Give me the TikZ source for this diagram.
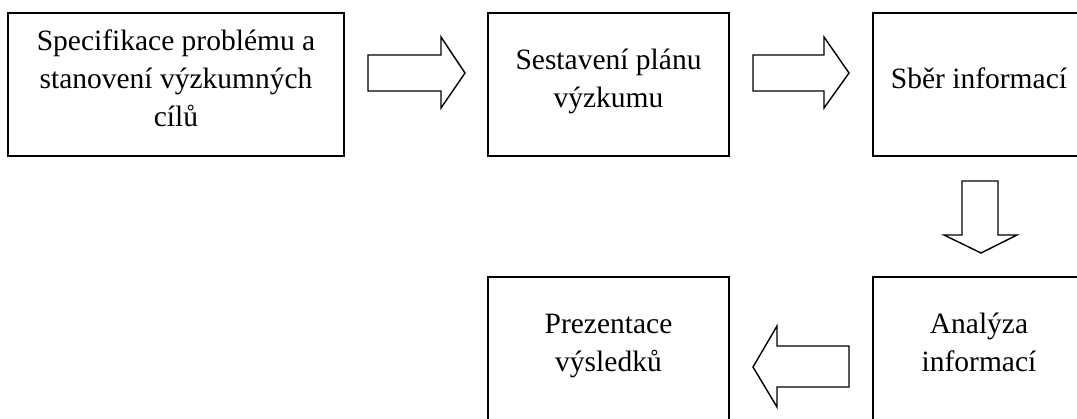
\documentclass[tikz,border=0pt]{standalone}
\usepackage{fontspec}
\setmainfont{Liberation Serif}
\begin{document}
\begin{tikzpicture}[x=1pt,y=-1pt,
  box/.style={draw, line width=1.6pt, inner sep=0pt, minimum height=143pt},
  txt/.style={inner sep=0pt, font=\fontsize{29.5}{38}\selectfont},
  barrow/.style={draw, line width=1.4pt, fill=white, line join=miter}]
\useasboundingbox (0,0) rectangle (1077,419);
\clip (0,0) rectangle (1077,419);
% boxes
\node[box, minimum width=336pt] (b1) at (176,84.5) {};
\node[box, minimum width=241pt] (b2) at (608.5,84.5) {};
\node[box, minimum width=212pt] (b3) at (979,84.5) {};
\node[box, minimum width=212pt, minimum height=144pt] (b5) at (979,349) {};
\node[box, minimum width=241pt, minimum height=144pt] (b4) at (608.5,349) {};
% texts
\node[txt] (t1) at ([yshift=4pt]b1.center) {\begin{tabular}{@{}c@{}}Specifikace problému a\\stanovení výzkumných\\cílů\end{tabular}};
\node[txt] (t2) at ([yshift=4pt]b2.center) {\begin{tabular}{@{}c@{}}Sestavení plánu\\výzkumu\end{tabular}};
\node[txt] (t3) at ([yshift=4pt]b3.center) {\begin{tabular}{@{}c@{}}Sběr informací\end{tabular}};
\node[txt] (t4) at ([yshift=4pt]b4.center) {\begin{tabular}{@{}c@{}}Prezentace\\výsledků\end{tabular}};
\node[txt] (t5) at ([yshift=4pt]b5.center) {\begin{tabular}{@{}c@{}}Analýza\\informací\end{tabular}};
% block arrows
\draw[barrow] (368,55) -- (441,55) -- (441,37) -- (465,73) -- (441,108) -- (441,91) -- (368,91) -- cycle;
\draw[barrow] (753,55) -- (824,55) -- (824,37) -- (849,73) -- (824,108) -- (824,91) -- (753,91) -- cycle;
\draw[barrow] (962,181) -- (998,181) -- (998,235) -- (1017,235) -- (981,253) -- (944,235) -- (962,235) -- cycle;
\draw[barrow] (849,346) -- (777,346) -- (777,326) -- (753,367) -- (777,407) -- (777,387) -- (849,387) -- cycle;
\end{tikzpicture}
\end{document}
